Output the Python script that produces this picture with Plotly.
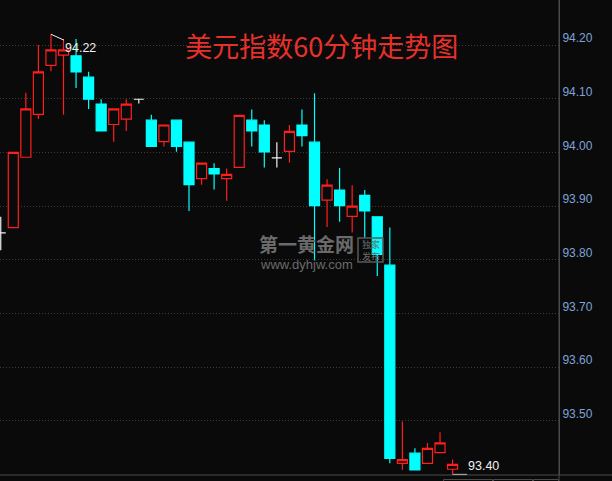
import plotly.graph_objects as go

# ---- data ----
idx    = list(range(-1, 36))
opens  = [93.850, 93.860, 93.991, 94.071, 94.162, 94.181, 94.180, 94.140, 94.090, 94.052,
          94.062, 94.099, 94.060, 94.020, 94.060, 94.019, 93.951, 93.970, 93.951, 93.972,
          94.060, 94.051, 93.990, 94.002, 94.051, 94.019, 93.911, 93.930, 93.881, 93.920,
          93.880, 93.790, 93.421, 93.440, 93.421, 93.441, 93.410]
highs  = [93.880, 94.000, 94.111, 94.200, 94.220, 94.211, 94.211, 94.150, 94.099, 94.081,
          94.099, 94.099, 94.070, 94.051, 94.060, 94.019, 93.980, 93.980, 93.970, 94.069,
          94.080, 94.060, 94.019, 94.051, 94.080, 94.110, 93.950, 93.971, 93.939, 93.930,
          93.880, 93.860, 93.499, 93.449, 93.459, 93.479, 93.428]
lows   = [93.818, 93.860, 93.991, 94.062, 94.151, 94.070, 94.120, 94.081, 94.040, 94.020,
          94.040, 94.091, 94.011, 94.011, 94.001, 93.891, 93.940, 93.931, 93.910, 93.972,
          94.011, 93.972, 93.972, 93.981, 94.011, 93.800, 93.861, 93.871, 93.851, 93.841,
          93.770, 93.421, 93.409, 93.409, 93.421, 93.441, 93.400]
closes = [93.850, 94.000, 94.081, 94.150, 94.191, 94.191, 94.150, 94.099, 94.040, 94.081,
          94.090, 94.099, 94.011, 94.051, 94.011, 93.940, 93.980, 93.960, 93.959, 94.069,
          94.040, 94.001, 93.990, 94.039, 94.031, 93.901, 93.939, 93.901, 93.900, 93.891,
          93.810, 93.430, 93.428, 93.409, 93.449, 93.459, 93.419]
tick_vals   = [93.50, 93.60, 93.70, 93.80, 93.90, 94.00, 94.10, 94.20]
tick_labels = ["93.50", "93.60", "93.70", "93.80", "93.90", "94.00", "94.10", "94.20"]
title_text = "美元指数60分钟走势图"

# ---- styling ----
BG = "#0a0a0a"
RED = "#ff1e1e"
CYAN = "#00ffff"
WHITE = "#f0f0f0"
GRID = "#3c3c3c"
AXIS = "#4a4a4a"
LABEL = "#7fa3d9"

W, H = 612, 481
PLOT_W, PLOT_H = 559, 475

# split normal candles and dojis (open == close, drawn white)
norm = [i for i in range(len(idx)) if opens[i] != closes[i]]
doji = [i for i in range(len(idx)) if opens[i] == closes[i]]

def pick(arr, sel):
    return [arr[i] for i in sel]

fig = go.Figure()
fig.add_trace(go.Candlestick(
    x=pick(idx, norm), open=pick(opens, norm), high=pick(highs, norm),
    low=pick(lows, norm), close=pick(closes, norm),
    increasing=dict(line=dict(color=RED, width=1.2), fillcolor=BG),
    decreasing=dict(line=dict(color=CYAN, width=1.2), fillcolor=CYAN),
    showlegend=False, hoverinfo="skip",
))
fig.add_trace(go.Candlestick(
    x=pick(idx, doji), open=pick(opens, doji), high=pick(highs, doji),
    low=pick(lows, doji), close=pick(closes, doji),
    increasing=dict(line=dict(color=WHITE, width=1.2), fillcolor=WHITE),
    decreasing=dict(line=dict(color=WHITE, width=1.2), fillcolor=WHITE),
    showlegend=False, hoverinfo="skip",
))

# max / min markers
imax = max(range(len(highs)), key=lambda i: highs[i])
imin = min(range(len(lows)), key=lambda i: lows[i])
annotations = [
    dict(x=idx[imax], y=highs[imax], xref="x", yref="y",
         text=f"{highs[imax]:.2f}", showarrow=True, arrowhead=0, arrowwidth=1,
         arrowcolor=WHITE, ax=30, ay=13.5, standoff=0, borderpad=1,
         font=dict(family="Liberation Sans", size=12.5, color=WHITE)),
    dict(x=idx[imin], y=lows[imin], xref="x", yref="y",
         text=f"{lows[imin]:.2f}", showarrow=False, xanchor="left", yanchor="middle",
         xshift=13, yshift=9,
         font=dict(family="Liberation Sans", size=12.5, color=WHITE)),
]

def px_x(p):
    return p / PLOT_W

def px_y(p):
    return (PLOT_H - p) / PLOT_H

# watermark
annotations += [
    dict(x=px_x(306.5), y=px_y(244), xref="paper", yref="paper", text="<b>第一黄金网</b>",
         showarrow=False, font=dict(family="Noto Sans CJK SC", size=19, color="#6a6a6a")),
    dict(x=px_x(306.5), y=px_y(264.5), xref="paper", yref="paper", text="www.dyhjw.com",
         showarrow=False, font=dict(family="Liberation Sans", size=13, color="#6a6a6a")),
    dict(x=px_x(370.5), y=px_y(250), xref="paper", yref="paper", text="独家<br>发布",
         showarrow=False, font=dict(family="Noto Sans CJK SC", size=9, color="#6a6a6a")),
]

shapes = [
    # low marker leader line
    dict(type="line", xref="x", yref="y", xsizemode="pixel", xanchor=idx[imin],
         x0=0, x1=14.5, y0=lows[imin], y1=lows[imin], line=dict(color=WHITE, width=1.5)),
    # bottom frame line spanning whole width
    dict(type="line", xref="paper", yref="paper", x0=0, x1=W / PLOT_W, y0=0, y1=0,
         line=dict(color=AXIS, width=1)),
    # right axis separator extending to bottom
    dict(type="line", xref="paper", yref="paper", x0=1, x1=1, y0=-0.05, y1=1,
         line=dict(color=AXIS, width=1)),
    # watermark badge
    dict(type="rect", xref="paper", yref="paper", x0=px_x(358), x1=px_x(383),
         y0=px_y(262), y1=px_y(238), line=dict(color="#5a5a5a", width=1.5)),
]
# partial boxes at the bottom edge
for a, b in [(443.5, 492.5), (493.5, 532.5), (533.5, 558.5)]:
    shapes.append(dict(type="rect", xref="paper", yref="paper", x0=px_x(a), x1=px_x(b),
                       y0=px_y(479.5), y1=px_y(495), line=dict(color="#4a4a4a", width=1)))

fig.update_layout(
    width=W, height=H,
    margin=dict(l=0, r=W - PLOT_W, t=0, b=H - PLOT_H),
    paper_bgcolor=BG, plot_bgcolor=BG,
    boxgap=0.2, boxgroupgap=0,
    title=dict(text=title_text, x=321.7 / W, y=1 - 47.3 / H, xref="container", yref="container",
               xanchor="center", yanchor="middle",
               font=dict(family="Noto Sans CJK SC", size=27, color="#e8302a")),
    xaxis=dict(range=[-1.06, 43.48], showgrid=False, zeroline=False, showticklabels=False,
               showline=False, rangeslider=dict(visible=False), fixedrange=True),
    yaxis=dict(range=[93.3993, 94.2838], side="right", tickvals=tick_vals, ticktext=tick_labels,
               showgrid=True, gridcolor=GRID, gridwidth=1, griddash="1px,2px",
               zeroline=False, showline=True, linecolor=AXIS, linewidth=1, ticks="",
               ticklabelshift=-7, ticklabelstandoff=0, fixedrange=True,
               tickfont=dict(family="Liberation Sans", size=12, color=LABEL)),
    annotations=annotations, shapes=shapes,
    showlegend=False,
)

fig.write_html(
    "out.html",
    config={"displayModeBar": False, "staticPlot": True},
    post_script="document.body.style.margin='0';document.body.style.background='#0a0a0a';",
)
